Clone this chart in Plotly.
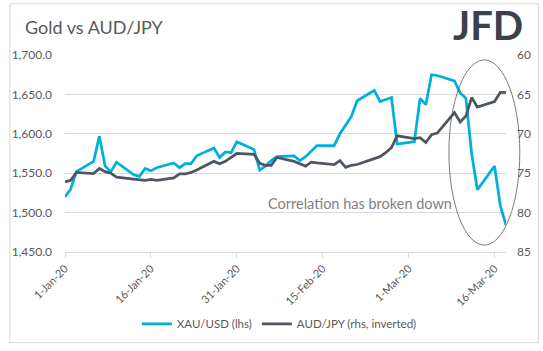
import pandas as pd
import plotly.graph_objects as go

# ---- data ----
dates = pd.bdate_range("2020-01-01", "2020-03-18")

xau_usd = [
    # Jan
    1520, 1530, 1552, 1565, 1597, 1559, 1552, 1564, 1548, 1546, 1556, 1553,
    1557, 1563, 1557, 1562, 1562, 1572, 1582, 1570, 1577, 1576, 1590,
    # Feb
    1580, 1554, 1559, 1566, 1571, 1572, 1566, 1571, 1578, 1585, 1585, 1600,
    1611, 1622, 1642, 1655, 1641, 1644, 1646, 1587,
    # Mar
    1590, 1645, 1637, 1675, 1674, 1667, 1652, 1645, 1575, 1529, 1559, 1509, 1484,
]

aud_jpy = [
    # Jan
    76.1, 75.9, 74.9, 75.05, 74.4, 74.8, 75.0, 75.5, 75.75, 75.85, 75.9, 75.8,
    75.9, 75.6, 75.1, 75.1, 74.9, 74.6, 73.5, 73.8, 73.5, 73.0, 72.5,
    # Feb
    72.6, 73.75, 74.0, 74.0, 73.0, 73.5, 73.8, 74.1, 73.6, 73.7, 73.9, 73.4,
    74.25, 74.0, 73.9, 73.2, 72.9, 72.4, 71.75, 70.25,
    # Mar
    70.6, 70.5, 71.1, 70.1, 69.9, 67.3, 68.5, 67.75, 65.4, 66.6, 65.9, 64.75, 64.75,
]

tick_dates = ["2020-01-01", "2020-01-16", "2020-01-31", "2020-02-15", "2020-03-01", "2020-03-16"]
tick_labels = ["1-Jan-20", "16-Jan-20", "31-Jan-20", "15-Feb-20", "1-Mar-20", "16-Mar-20"]

series_names = ["XAU/USD (lhs)", "AUD/JPY (rhs, inverted)"]

# ---- style ----
CYAN = "#00B0DA"
GREY = "#4E5660"
TXT = "#595959"
GRID = "#D9D9D9"
FONT = "Lato"

W, H = 543, 351
L, R, T, B = 59, 507, 55, 255  # plot area in pixels


def px_x(px):
    return (px - L) / (R - L)


def px_y(py):
    return (B - py) / (B - T)


fig = go.Figure()
fig.add_trace(go.Scatter(x=dates, y=xau_usd, name=series_names[0], mode="lines",
                         line=dict(color=CYAN, width=2.75), yaxis="y"))
fig.add_trace(go.Scatter(x=dates, y=aud_jpy, name=series_names[1], mode="lines",
                         line=dict(color=GREY, width=2.75), yaxis="y2"))

fig.update_layout(
    width=W, height=H,
    margin=dict(l=L, r=W - R, t=T, b=H - B),
    paper_bgcolor="white", plot_bgcolor="white",
    font=dict(family=FONT, color=TXT, size=11),
    showlegend=True,
    legend=dict(orientation="h", x=px_x(132), xanchor="left", y=px_y(328), yanchor="middle",
                font=dict(size=11.5, color=TXT), itemwidth=30, bgcolor="rgba(0,0,0,0)"),
    xaxis=dict(type="date", range=["2020-01-01", "2020-03-18"],
               tickvals=tick_dates, ticktext=tick_labels, tickangle=-45,
               ticks="outside", ticklen=5, tickcolor=GRID,
               showline=True, linecolor=GRID, linewidth=1,
               showgrid=False, zeroline=False,
               tickfont=dict(size=11, color=TXT)),
    yaxis=dict(range=[1450, 1700], dtick=50, tickformat=",.1f",
               showgrid=True, gridcolor=GRID, gridwidth=1, zeroline=False,
               showline=False, ticks="", ticklabelstandoff=12,
               tickfont=dict(size=12, color=TXT)),
    yaxis2=dict(range=[85, 60], dtick=5, overlaying="y", side="right",
                showgrid=False, zeroline=False, showline=False, ticks="",
                ticklabelstandoff=10,
                tickfont=dict(size=12, color=TXT)),
)

# chart border
fig.add_shape(type="rect", xref="paper", yref="paper",
              x0=px_x(3), x1=px_x(540), y0=px_y(347), y1=px_y(3),
              line=dict(color=GRID, width=1), layer="below")

# ellipse highlighting the divergence
fig.add_shape(type="circle", xref="paper", yref="paper",
              x0=px_x(449), x1=px_x(521), y0=px_y(248), y1=px_y(60),
              line=dict(color="#595959", width=0.8))

# title
fig.add_annotation(text="Gold vs AUD/JPY", xref="paper", yref="paper",
                   x=px_x(16), y=px_y(27), xanchor="left", yanchor="middle",
                   showarrow=False, font=dict(size=18, color=TXT, family=FONT))

# logo text
fig.add_annotation(text="<b>JFD</b>", xref="paper", yref="paper",
                   x=px_x(489), y=px_y(25), xanchor="center", yanchor="middle",
                   showarrow=False, font=dict(size=40, color="#3A414A", family=FONT))

# comment
fig.add_annotation(text="Correlation has broken down", xref="paper", yref="paper",
                   x=px_x(263), y=px_y(206), xanchor="left", yanchor="middle",
                   showarrow=False, font=dict(size=14.5, color="#7F7F7F", family=FONT))

fig.write_html("out.html")
